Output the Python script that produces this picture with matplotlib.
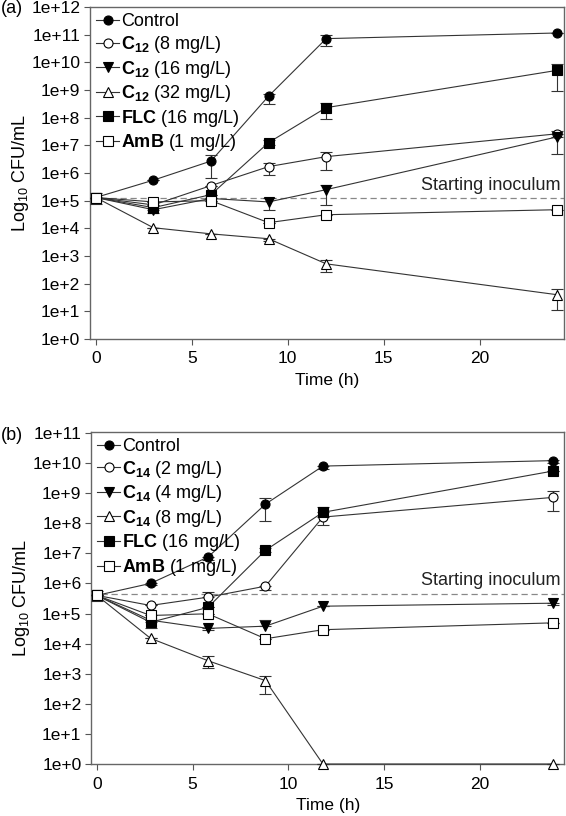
import matplotlib
matplotlib.use('Agg')
import matplotlib.pyplot as plt
from matplotlib.lines import Line2D
import numpy as np

plt.rcParams['font.family'] = ['Liberation Sans', 'DejaVu Sans']
plt.rcParams['mathtext.fontset'] = 'custom'
plt.rcParams['mathtext.rm'] = 'Liberation Sans'
plt.rcParams['mathtext.bf'] = 'Liberation Sans:bold'
plt.rcParams['mathtext.it'] = 'Liberation Sans:italic'

# ---------------- panel (a) data ----------------
time_a = [0, 3, 6, 9, 12, 24]
labels_a = ['Control',
            r'$\mathbf{C}_{\mathbf{12}}$ (8 mg/L)',
            r'$\mathbf{C}_{\mathbf{12}}$ (16 mg/L)',
            r'$\mathbf{C}_{\mathbf{12}}$ (32 mg/L)',
            r'$\mathbf{FLC}$ (16 mg/L)',
            r'$\mathbf{AmB}$ (1 mg/L)']
control_a = [1.3e5, 5.5e5, 2.7e6, 6.0e8, 7.2e10, 1.15e11]
control_a_lo = [7.5e4, 5.5e5, 6.8e5, 3.2e8, 3.9e10, 1.15e11]
control_a_hi = [1.9e5, 5.5e5, 4.3e6, 7.4e8, 1.0e11, 1.15e11]
c12_8 = [1.3e5, 7.0e4, 3.5e5, 1.7e6, 3.9e6, 2.6e7]
c12_8_lo = [1.3e5, 7.0e4, 3.5e5, 8.7e5, 1.26e6, 2.6e7]
c12_8_hi = [1.3e5, 7.0e4, 3.5e5, 2.3e6, 5.6e6, 3.4e7]
c12_16 = [1.3e5, 4.7e4, 1.2e5, 9.0e4, 2.5e5, 2.0e7]
c12_16_lo = [1.3e5, 3.6e4, 1.2e5, 4.7e4, 7.2e4, 4.9e6]
c12_16_hi = [1.3e5, 4.7e4, 1.2e5, 1.26e5, 3.8e5, 2.0e7]
c12_32 = [1.3e5, 1.05e4, 6.3e3, 4.2e3, 5.2e2, 40]
c12_32_lo = [1.3e5, 1.05e4, 6.3e3, 3.5e3, 2.7e2, 11]
c12_32_hi = [1.3e5, 1.05e4, 6.3e3, 4.2e3, 7.0e2, 65]
flc_a = [1.3e5, 5.6e4, 1.65e5, 1.26e7, 2.3e8, 5.1e9]
flc_a_lo = [1.3e5, 5.6e4, 1.65e5, 1.0e7, 9.3e7, 9.0e8]
flc_a_hi = [1.3e5, 5.6e4, 1.65e5, 1.6e7, 3.5e8, 9.0e9]
amb_a = [1.3e5, 9.0e4, 1.0e5, 1.6e4, 3.1e4, 4.7e4]
inoculum_a = 1.27e5

# ---------------- panel (b) data ----------------
time_b = [0, 2.8, 5.8, 8.8, 11.8, 23.8]
labels_b = ['Control',
            r'$\mathbf{C}_{\mathbf{14}}$ (2 mg/L)',
            r'$\mathbf{C}_{\mathbf{14}}$ (4 mg/L)',
            r'$\mathbf{C}_{\mathbf{14}}$ (8 mg/L)',
            r'$\mathbf{FLC}$ (16 mg/L)',
            r'$\mathbf{AmB}$ (1 mg/L)']
control_b = [4.0e5, 1.0e6, 7.5e6, 4.3e8, 7.9e9, 1.2e10]
control_b_lo = [2.6e5, 9.0e5, 6.0e6, 1.2e8, 6.5e9, 1.0e10]
control_b_hi = [5.5e5, 1.0e6, 7.5e6, 6.9e8, 7.9e9, 1.3e10]
c14_2 = [4.0e5, 1.85e5, 3.5e5, 8.1e5, 1.6e8, 7.2e8]
c14_2_lo = [4.0e5, 1.85e5, 3.5e5, 6.0e5, 8.5e7, 2.5e8]
c14_2_hi = [4.0e5, 1.85e5, 5.1e5, 8.1e5, 1.6e8, 1.2e9]
c14_4 = [4.0e5, 6.0e4, 3.2e4, 3.8e4, 1.75e5, 2.2e5]
c14_4_lo = [4.0e5, 6.0e4, 2.8e4, 3.8e4, 1.75e5, 1.9e5]
c14_4_hi = [4.0e5, 6.0e4, 3.2e4, 6.3e4, 1.75e5, 2.2e5]
c14_8 = [4.0e5, 1.5e4, 2.7e3, 5.9e2, 1, 1]
c14_8_lo = [4.0e5, 1.5e4, 1.6e3, 2.1e2, 1, 1]
c14_8_hi = [4.0e5, 1.5e4, 3.8e3, 8.5e2, 1, 1]
flc_b = [4.0e5, 5.1e4, 1.6e5, 1.26e7, 2.3e8, 5.4e9]
flc_b_lo = [4.0e5, 3.2e4, 1.6e5, 1.1e7, 2.3e8, 5.4e9]
flc_b_hi = [4.0e5, 5.1e4, 1.6e5, 1.5e7, 3.5e8, 5.4e9]
amb_b = [4.0e5, 8.6e4, 9.8e4, 1.45e4, 2.9e4, 4.9e4]
inoculum_b = 4.6e5

styles = [('o', 'black'), ('o', 'white'), ('v', 'black'),
          ('^', 'white'), ('s', 'black'), ('s', 'white')]
line_col = '#333333'
FS = 12.5


def draw_panel(ax, t, series, labels, inoc, ylim_top, yticks):
    ax.axhline(inoc, color='#888888', linestyle=(0, (5, 3)), linewidth=0.9, zorder=1)
    handles = []
    for (mean, lo, hi), lab, (mk, fc) in zip(series, labels, styles):
        mean = np.array(mean, dtype=float)
        lo = np.array(lo if lo is not None else mean, dtype=float)
        hi = np.array(hi if hi is not None else mean, dtype=float)
        ax.errorbar(t, mean, yerr=[mean - lo, hi - mean], fmt=mk + '-',
                    color=line_col, mfc=fc, mec='black', ms=6.5, mew=0.8,
                    lw=0.8, ecolor=line_col, elinewidth=0.8, capsize=4.5,
                    capthick=0.8, clip_on=False, zorder=3)
        handles.append(Line2D([], [], marker=mk, color=line_col, mfc=fc,
                              mec='black', ms=6.5, mew=0.8, lw=0.8, label=lab))
    ax.set_yscale('log')
    ax.set_ylim(1, ylim_top)
    ax.set_xlim(-0.3, 24.4)
    ax.set_yticks(yticks)
    ax.set_yticklabels(['1e+%d' % int(np.log10(v)) for v in yticks])
    ax.yaxis.set_minor_locator(matplotlib.ticker.NullLocator())
    ax.set_xticks([0, 5, 10, 15, 20])
    ax.tick_params(labelsize=FS, length=4, width=0.8, color='#555555', pad=3)
    ax.tick_params(axis='x', pad=5)
    for sp in ax.spines.values():
        sp.set_color('#666666')
        sp.set_linewidth(1.0)
    ax.set_xlabel('Time (h)', fontsize=FS, labelpad=5)
    ax.set_ylabel(r'Log$_{10}$ CFU/mL', fontsize=13, labelpad=0)
    ax.text(24.2, inoc * 1.4, 'Starting inoculum', ha='right', va='bottom',
            fontsize=13, color='#222222')
    ax.legend(handles=handles, loc='upper left', frameon=False, fontsize=13,
              handlelength=1.25, handletextpad=0.12, labelspacing=0.2,
              borderaxespad=0.15, borderpad=0.2)


fig = plt.figure(figsize=(5.66, 8.16), dpi=100)
ax1 = fig.add_axes([0.159, 0.5846, 0.838, 0.4068])
ax2 = fig.add_axes([0.161, 0.0637, 0.836, 0.4073])

series_a = [(control_a, control_a_lo, control_a_hi),
            (c12_8, c12_8_lo, c12_8_hi),
            (c12_16, c12_16_lo, c12_16_hi),
            (c12_32, c12_32_lo, c12_32_hi),
            (flc_a, flc_a_lo, flc_a_hi),
            (amb_a, None, None)]
series_b = [(control_b, control_b_lo, control_b_hi),
            (c14_2, c14_2_lo, c14_2_hi),
            (c14_4, c14_4_lo, c14_4_hi),
            (c14_8, c14_8_lo, c14_8_hi),
            (flc_b, flc_b_lo, flc_b_hi),
            (amb_b, None, None)]

draw_panel(ax1, time_a, series_a, labels_a, inoculum_a, 1e12,
           [10.0 ** k for k in range(0, 13)])
draw_panel(ax2, time_b, series_b, labels_b, inoculum_b, 1.1e11,
           [10.0 ** k for k in range(0, 12)])

fig.text(0.002, 0.990, '(a)', fontsize=13, va='center', ha='left')
fig.text(0.002, 0.466, '(b)', fontsize=13, va='center', ha='left')

plt.savefig('out.png', dpi=100)
